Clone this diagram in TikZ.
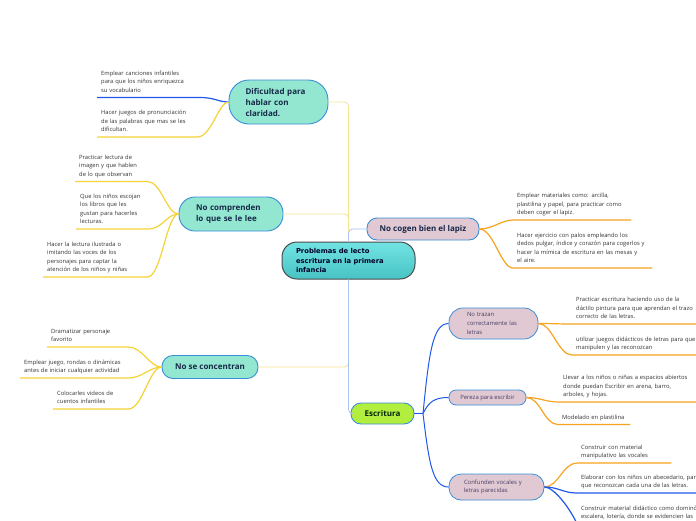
\documentclass[tikz,border=0pt]{standalone}
\usepackage{fontspec}
\setmainfont{Open Sans}
\newfontfamily\rootfont{DejaVu Sans}

% Colours of the map
\definecolor{mintfill}{HTML}{93E6CF}
\definecolor{pinkfill}{HTML}{E0C9D2}
\definecolor{limefill}{HTML}{B2EE3E}
\definecolor{roottop}{HTML}{72E3E3}
\definecolor{rootbottom}{HTML}{48C3C5}
\definecolor{nodeborder}{HTML}{3A8ED8}
\definecolor{navytext}{HTML}{17284A}
\definecolor{subtext}{HTML}{463E66}
\definecolor{leaftext}{HTML}{333333}
\definecolor{linkyellow}{HTML}{F5D337}
\definecolor{linkorange}{HTML}{F7A320}
\definecolor{linkblue}{HTML}{1F58EA}
\definecolor{paleyellow}{HTML}{F7E48E}
\definecolor{paleblue}{HTML}{A9C3F3}

\tikzset{
  branch/.style={draw=nodeborder, line width=0.9pt, fill=mintfill, text=navytext,
    font=\bfseries\fontsize{8}{11}\selectfont, inner ysep=0pt},
  subbranch/.style={draw=nodeborder, line width=0.8pt, fill=pinkfill, text=subtext,
    font=\fontsize{5.9}{8.6}\selectfont, inner ysep=0pt},
  leaf/.style={anchor=south west, align=left, text=leaftext, inner xsep=4pt,
    inner ysep=3.5pt, execute at end node={\vphantom{g}}, font=\fontsize{5.8}{8.6}\selectfont},
  rootlink/.style={line width=0.8pt, rounded corners=4pt},
  leaflink/.style={line width=1.2pt},
}

\begin{document}
\begin{tikzpicture}[x=1pt, y=1pt]
% Page frame
\fill[white] (0,0) rectangle (696,-520);
\useasboundingbox (0,0) rectangle (696,-520);
\clip (0,0) rectangle (696,-520);

% Central topic
\node[draw=black!70, line width=1pt, top color=roottop, bottom color=rootbottom,
  rounded corners=15pt, text width=105pt, inner xsep=14pt, inner ysep=0pt,
  minimum height=37pt, align=left, text=black!75!blue!60!black,
  font=\rootfont\bfseries\fontsize{6.8}{9.2}\selectfont]
  (root) at (348.5,-260.5) {Problemas de lecto\\escritura en la primera\\infancia};

% Main branches
\node[branch, rounded corners=20pt, text width=66pt, inner xsep=16.5pt, minimum height=44pt, align=left]
  (dif) at (278.5,-102) {Dificultad para\\hablar con\\claridad.};
\node[branch, rounded corners=16pt, text width=70pt, inner xsep=17pt, minimum height=34pt, align=left]
  (com) at (231,-214) {No comprenden\\lo que se le lee};
\node[branch, rounded corners=11pt, minimum width=96pt, minimum height=23pt]
  (con) at (210,-367) {No se concentran};
\node[branch, fill=pinkfill, rounded corners=10pt, minimum width=112pt, minimum height=22pt]
  (cog) at (423,-229) {No cogen bien el lapiz};
\node[branch, fill=limefill, text=navytext!60!green!30!black, rounded corners=10pt,
  minimum width=63pt, minimum height=21pt]
  (esc) at (382.5,-413.5) {Escritura};

% Sub branches of Escritura
\node[subbranch, rounded corners=14pt, text width=53pt, inner xsep=18pt, minimum height=31pt, align=left]
  (tra) at (493.5,-323.5) {No trazan\\correctamente las\\letras};
\node[subbranch, rounded corners=7pt, minimum width=77pt, minimum height=15pt]
  (per) at (487.5,-397.5) {Pereza para escribir};
\node[subbranch, rounded corners=12pt, text width=65pt, inner xsep=15pt, minimum height=26pt, align=left]
  (cfu) at (496.5,-487) {Confunden vocales y\\letras parecidas};

% Links from the central topic
\draw[rootlink, paleyellow] (root.north) |- (dif.east);
\draw[rootlink, paleyellow] (root.north) |- (com.east);
\draw[rootlink, paleblue] (root.north) |- (cog.west);
\draw[rootlink, paleyellow] (root.south) |- (con.east);
\draw[rootlink, paleblue] (root.south) |- (esc.west);

% Leaves on the left
\node[leaf, text width=95pt] (emp1) at (97,-97.5)
  {Emplear canciones infantiles\\para que los niños enriquezca\\su vocabulario};
\node[leaf, text width=92pt] (hac1) at (97,-137)
  {Hacer juegos de pronunciación\\de las palabras que mas se les\\dificultan.};
\node[leaf, text width=64pt] (pra1) at (75,-181.5)
  {Practicar lectura de\\imagen y que hablen\\de lo que observan};
\node[leaf, text width=64pt] (que1) at (76,-229)
  {Que los niños escojan\\los libros que les\\gustan para hacerles\\lecturas.};
\node[leaf, text width=96pt] (ilu1) at (43,-277)
  {Hacer la lectura ilustrada o\\imitando las voces de los\\personajes para captar la\\atención de los niños y niñas};
\node[leaf, text width=73pt] (dra1) at (47,-347)
  {Dramatizar personaje\\favorito};
\node[leaf, text width=100pt] (jue1) at (20,-378)
  {Emplear juego, rondas o dinámicas\\antes de iniciar cualquier actividad};
\node[leaf, text width=67pt] (vid1) at (53,-409)
  {Colocarles videos de\\cuentos infantiles};

\draw[leaflink, linkblue] (emp1.south west) -- (emp1.south east)
  .. controls +(14,0) and +(-10,0) .. (dif.west);
\draw[leaflink, linkyellow] (hac1.south west) -- (hac1.south east)
  .. controls +(14,0) and +(-10,0) .. (dif.west);
\foreach \lf in {pra1,que1,ilu1}
  \draw[leaflink, linkyellow] (\lf.south west) -- (\lf.south east)
    .. controls +(14,0) and +(-12,0) .. (com.west);
\foreach \lf in {dra1,jue1,vid1}
  \draw[leaflink, linkyellow] (\lf.south west) -- (\lf.south east)
    .. controls +(14,0) and +(-12,0) .. (con.west);

% Leaves on the right
\node[leaf, text width=110pt] (mat1) at (513,-220)
  {Emplear materiales como: arcilla,\\plastilina y papel, para practicar como\\deben coger el lapiz.};
\node[leaf, text width=131pt] (pal1) at (513,-268)
  {Hacer ejercicio con palos empleando los\\dedos pulgar, índice y corazón para cogerlos y\\hacer la mímica de escritura en las mesas y\\el aire.};
\node[leaf, text width=135pt] (dac1) at (572,-324)
  {Practicar escritura haciendo uso de la\\dáctilo pintura para que aprendan el trazo\\correcto de las letras.};
\node[leaf, text width=135pt] (jdi1) at (572,-355)
  {utilizar juegos didácticos de letras para que\\manipulen y las reconozcan};
\node[leaf, text width=140pt] (lle1) at (559,-402)
  {Llevar a los niños o niñas a espacios abiertos\\donde puedan Escribir en arena, barro,\\arboles, y hojas.};
\node[leaf, text width=64pt] (mod1) at (558,-424.5)
  {Modelado en plastilina};
\node[leaf, text width=86pt] (con1) at (577,-463)
  {Construir con material\\manipulativo las vocales};
\node[leaf, text width=140pt] (abc1) at (577,-493)
  {Elaborar con los niños un abecedario, para\\que reconozcan cada una de las letras.};
\node[leaf, text width=140pt] (dom1) at (577,-524)
  {Construir material didáctico como dominó,\\escalera, lotería, donde se evidencien las};

\foreach \lf in {mat1,pal1}
  \draw[leaflink, linkorange] (cog.east) .. controls +(14,0) and +(-12,0) .. (\lf.south west)
    -- (\lf.south east);
\foreach \lf in {dac1,jdi1}
  \draw[leaflink, linkorange] (tra.east) .. controls +(14,0) and +(-14,0) .. (\lf.south west)
    -- (\lf.south east);
\foreach \lf in {lle1,mod1}
  \draw[leaflink, linkorange] (per.east) .. controls +(14,0) and +(-14,0) .. (\lf.south west)
    -- (\lf.south east);
\draw[leaflink, linkorange] (cfu.east) .. controls +(14,0) and +(-14,0) .. (con1.south west)
  -- (con1.south east);
\draw[leaflink, linkblue] (cfu.east) .. controls +(14,0) and +(-14,0) .. (abc1.south west)
  -- (abc1.south east);
\draw[leaflink, linkblue] (cfu.east) .. controls +(10,0) and +(-6,14) .. (dom1.south west)
  -- (dom1.south east);

% Links of Escritura
\coordinate (escj) at (423,-413.5);
\draw[leaflink, linkblue] (esc.east) -- (escj);
\draw[line width=1pt, linkblue] (escj) .. controls +(6,60) and +(-16,0) .. (tra.west);
\draw[line width=1pt, linkblue] (escj) .. controls +(6,12) and +(-14,0) .. (per.west);
\draw[line width=1pt, linkblue] (escj) .. controls +(6,-50) and +(-16,0) .. (cfu.west);
\end{tikzpicture}
\end{document}
